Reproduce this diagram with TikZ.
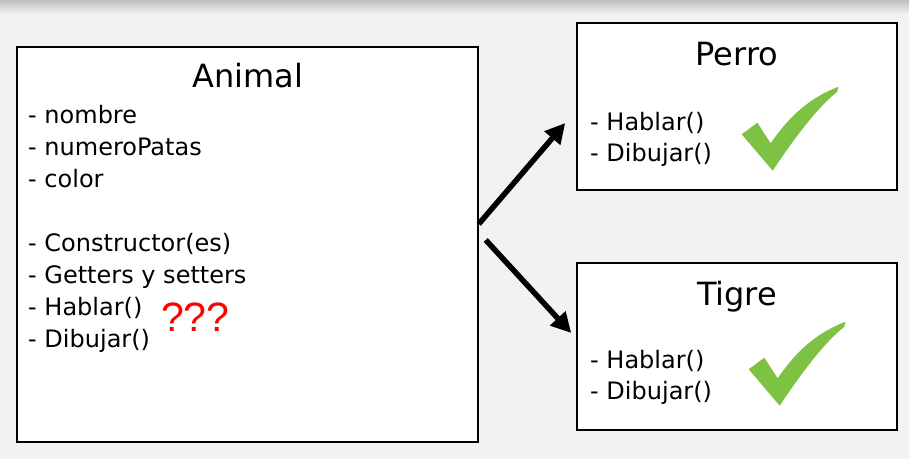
\documentclass[tikz,border=0pt]{standalone}
\usepackage{fontspec}
\setmainfont{DejaVu Sans}
\newfontfamily\qfont{Liberation Sans}
\usetikzlibrary{arrows.meta,calc}
\definecolor{bg}{RGB}{242,242,242}
\definecolor{chk}{RGB}{125,194,66}
\definecolor{qred}{RGB}{255,0,0}
\tikzset{
  box/.style={draw=black, line width=1.5pt, fill=white, inner sep=0pt},
  title/.style={font=\fontsize{32}{38}\selectfont, inner sep=0pt, anchor=base},
  item/.style={font=\fontsize{24}{30}\selectfont, inner sep=0pt, anchor=base west},
  bigarrow/.style={line width=5.5pt, -{Triangle[length=20pt,width=20pt]}},
  greencheck/.pic={
    \fill[chk] (1.7,47.3) -- (17.3,35.7) -- (30.7,56.3)
      .. controls (50,28) and (70,11) .. (98.3,-0.3)
      -- (97.3,4.7)
      .. controls (78,20) and (55,50) .. (32.7,83.7) -- cycle;
  }
}
\begin{document}
\begin{tikzpicture}[x=1pt,y=-1pt]
\useasboundingbox (0,0) rectangle (909,459);
\fill[bg] (0,0) rectangle (909,459);
\shade[top color=gray!50, bottom color=bg] (0,0) rectangle (909,14);

% boxes
\node[box, minimum width=461pt, minimum height=395pt] (animal) at (247.5,244.5) {};
\node[box, minimum width=320pt, minimum height=167pt] (perro) at (737,106.5) {};
\node[box, minimum width=320pt, minimum height=167pt] (tigre) at (737,346.5) {};

% titles
\node[title] (tanimal) at (248,87) {Animal};
\node[title] (tperro) at (737,65) {Perro};
\node[title] (ttigre) at (737,305) {Tigre};

% Animal items
\node[item] (a1) at (28,123) {- nombre};
\node[item] (a2) at (28,155) {- numeroPatas};
\node[item] (a3) at (28,187) {- color};
\node[item] (a4) at (28,251) {- Constructor(es)};
\node[item] (a5) at (28,283) {- Getters y setters};
\node[item] (a6) at (28,315) {- Hablar()};
\node[item] (a7) at (28,347) {- Dibujar()};
\node[anchor=base west, inner sep=0pt, text=qred, font=\qfont\fontsize{41}{48}\selectfont] (q) at (161,331) {???};

% Perro items
\node[item] (p1) at (590,130) {- Hablar()};
\node[item] (p2) at (590,161) {- Dibujar()};
% Tigre items
\node[item] (g1) at (590,368) {- Hablar()};
\node[item] (g2) at (590,399) {- Dibujar()};

% checks
\pic at (740,87) {greencheck};
\pic at (747,322) {greencheck};

% arrows
\draw[bigarrow] ($(animal.east)+(0,-20.5)$) -- ($(perro.west)+(-11,16.5)$);
\draw[bigarrow] ($(animal.east)+(7,-4.5)$) -- ($(tigre.west)+(-5,-13.5)$);
\end{tikzpicture}
\end{document}
